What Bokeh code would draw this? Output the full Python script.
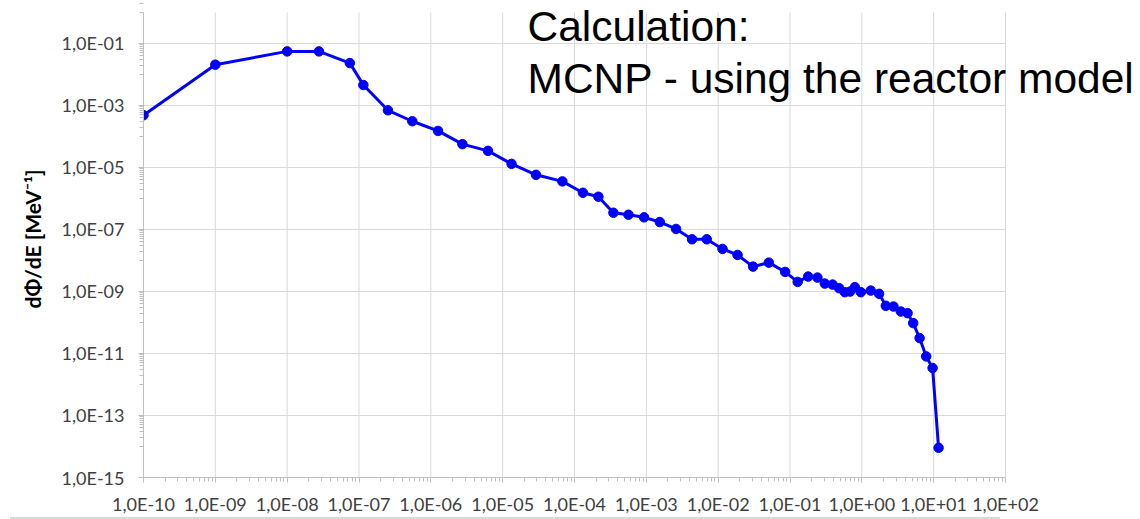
from bokeh.plotting import figure
from bokeh.models import (Range1d, FixedTicker, CustomJSTickFormatter, Label, Div)
from bokeh.layouts import column
from bokeh.embed import file_html
from bokeh.resources import INLINE

# ---- data ----
energy = [1.0e-10, 1.0e-9, 1.0e-8, 2.77e-8, 7.46e-8, 1.15e-7, 2.53e-7, 5.52e-7,
          1.26e-6, 2.75e-6, 6.24e-6, 1.33e-5, 2.91e-5, 6.78e-5, 1.31e-4, 2.15e-4,
          3.48e-4, 5.64e-4, 9.3e-4, 1.54e-3, 2.59e-3, 4.33e-3, 6.94e-3, 1.15e-2,
          1.86e-2, 3.06e-2, 5.07e-2, 8.55e-2, 0.128, 0.179, 0.241, 0.305, 0.391,
          0.483, 0.580, 0.687, 0.80, 0.968, 1.33, 1.74, 2.16, 2.76, 3.49, 4.33,
          5.19, 6.37, 7.87, 9.67, 11.7]
flux = [4.84e-4, 2.07e-2, 5.56e-2, 5.56e-2, 2.33e-2, 4.57e-3, 7.0e-4, 3.1e-4,
        1.51e-4, 5.65e-5, 3.44e-5, 1.31e-5, 5.8e-6, 3.56e-6, 1.53e-6, 1.14e-6,
        3.47e-7, 2.99e-7, 2.47e-7, 1.74e-7, 1.04e-7, 4.83e-8, 4.83e-8, 2.36e-8,
        1.51e-8, 6.34e-9, 8.53e-9, 4.28e-9, 2.04e-9, 3.03e-9, 2.81e-9, 1.80e-9,
        1.67e-9, 1.28e-9, 9.5e-10, 9.95e-10, 1.38e-9, 9.5e-10, 1.07e-9, 8.39e-10,
        3.45e-10, 3.27e-10, 2.26e-10, 2.0e-10, 9.55e-11, 3.14e-11, 8.05e-12,
        3.40e-12, 9.1e-15]

x_tick_exps = list(range(-10, 3))
x_tick_labels = ["1,0E-10", "1,0E-09", "1,0E-08", "1,0E-07", "1,0E-06", "1,0E-05",
                 "1,0E-04", "1,0E-03", "1,0E-02", "1,0E-01", "1,0E+00", "1,0E+01",
                 "1,0E+02"]
y_axis_exps = (-15, 0)
y_tick_exps = [-15, -13, -11, -9, -7, -5, -3, -1]
y_tick_labels = ["1,0E-15", "1,0E-13", "1,0E-11", "1,0E-09", "1,0E-07", "1,0E-05",
                 "1,0E-03", "1,0E-01"]
y_label = "dΦ/dE [MeV⁻¹]"
note_lines = ["Calculation:", "MCNP - using the reactor model"]

# ---- layout geometry ----
W, H = 1140, 517
LEFT, BOTTOM = 143, 39
AXIS_W, AXIS_H = 862, 466          # pixel size of the drawn axes
AXIS_TOP = 12                      # gap between frame top and the 1E+00 level
x_lo, x_hi = 10.0 ** x_tick_exps[0], 10.0 ** x_tick_exps[-1]
y_lo, y_hi = 10.0 ** y_axis_exps[0], 10.0 ** y_axis_exps[1]
x_ppd = AXIS_W / (x_tick_exps[-1] - x_tick_exps[0])
y_ppd = AXIS_H / (y_axis_exps[1] - y_axis_exps[0])
x_end = x_hi * 10 ** ((W - LEFT - AXIS_W) / x_ppd)   # frame extends under the note
y_end = y_hi * 10 ** (AXIS_TOP / y_ppd)

p = figure(width=W, height=H, output_backend="svg", toolbar_location=None,
           x_axis_type="log", y_axis_type="log",
           x_range=Range1d(x_lo, x_end), y_range=Range1d(y_lo, y_end),
           min_border_left=LEFT, min_border_right=0, min_border_top=0,
           min_border_bottom=BOTTOM)
p.outline_line_color = None
p.background_fill_color = "white"
p.border_fill_color = "white"

x_ticks = [10.0 ** e for e in x_tick_exps]
x_minor = [k * 10.0 ** e for e in x_tick_exps[:-1] for k in range(2, 10)]
y_ticks = [10.0 ** e for e in y_tick_exps]
y_minor = [k * 10.0 ** (e + 1) for e in y_tick_exps for k in range(1, 10)]

p.xaxis.ticker = FixedTicker(ticks=x_ticks, minor_ticks=x_minor)
p.yaxis.ticker = FixedTicker(ticks=y_ticks, minor_ticks=y_minor)
p.xaxis.bounds = (x_lo, x_hi)
p.yaxis.bounds = (y_lo, y_hi)

p.xaxis.formatter = CustomJSTickFormatter(
    args=dict(labels=x_tick_labels, first=x_tick_exps[0]),
    code="return labels[Math.round(Math.log10(tick)) - first];")
p.yaxis.formatter = CustomJSTickFormatter(
    args=dict(labels=y_tick_labels, exps=y_tick_exps),
    code="return labels[exps.indexOf(Math.round(Math.log10(tick)))];")

for ax in (p.xaxis[0], p.yaxis[0]):
    ax.axis_line_color = "#bfbfbf"
    ax.axis_line_width = 1
    ax.major_tick_line_color = "#bfbfbf"
    ax.minor_tick_line_color = "#bfbfbf"
    ax.major_tick_out = 5
    ax.major_tick_in = 0
    ax.minor_tick_out = 4
    ax.minor_tick_in = 0
    ax.major_label_text_font = "Lato"
    ax.major_label_text_font_size = "18px"
    ax.major_label_text_color = "#404040"

p.xaxis.major_label_standoff = 10
p.yaxis.major_label_standoff = 14
p.yaxis.axis_label = y_label
p.yaxis.axis_label_text_font = "Lato"
p.yaxis.axis_label_text_font_style = "bold"
p.yaxis.axis_label_text_font_size = "21px"
p.yaxis.axis_label_text_color = "#000000"
p.yaxis.axis_label_standoff = 14

# grid lines drawn within the axis extent only
GRID = "#d9d9d9"
p.xgrid.grid_line_color = None
p.ygrid.grid_line_color = None
p.segment(x0=[x_lo] * len(y_ticks), x1=[x_hi] * len(y_ticks), y0=y_ticks, y1=y_ticks,
          line_color=GRID, line_width=1, level="underlay")
p.segment(x0=x_ticks, x1=x_ticks, y0=[y_lo] * len(x_ticks), y1=[y_hi] * len(x_ticks),
          line_color=GRID, line_width=1, level="underlay")

# ---- series ----
p.line(energy, flux, line_color="#0000ff", line_width=3)
p.scatter(energy, flux, size=9.5, fill_color="#0000ff", line_color="#0000ff")

# ---- overlay text ----
for i, txt in enumerate(note_lines):
    p.add_layout(Label(x=384, y=451 - 52 * i, x_units="screen", y_units="screen",
                       text=txt, text_font="Liberation Sans",
                       text_font_size="42.5px", text_color="#000000",
                       text_baseline="alphabetic"))

# thin light rule along the bottom edge of the chart area
rule = Div(text="", width=990, height=2, margin=(0, 0, 0, 10),
           styles={"border-top": "2px solid #d9d9d9", "box-sizing": "border-box"})

layout = column(p, rule, spacing=0)
open("out.html", "w").write(file_html(layout, INLINE))
